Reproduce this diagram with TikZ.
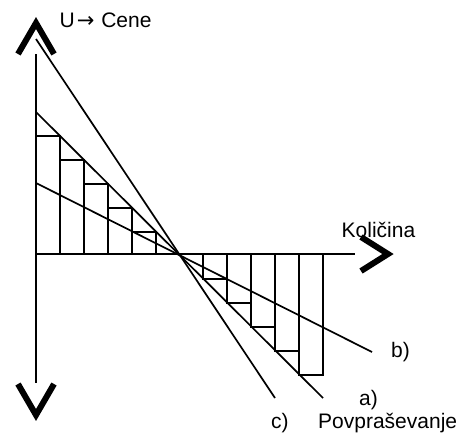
\documentclass[tikz,border=0pt]{standalone}
\usepackage{fontspec}
\setmainfont{Liberation Sans}
\newfontfamily\arrowfont{DejaVu Sans}
\usepackage{tikz}
\usetikzlibrary{positioning}

\begin{document}
\begin{tikzpicture}[x=1pt,y=-1pt,font=\fontsize{21}{25}\selectfont,
  axis/.style={line width=2.2pt},
  chevron/.style={line width=6pt,miter limit=10},
  demand/.style={line width=1.7pt},
  bar/.style={line width=1.8pt},
  lbl/.style={anchor=base west,inner sep=0pt}]
  \useasboundingbox (0,0) rectangle (470,432);

  % axes
  \coordinate (ytop) at (36,54);
  \coordinate (ybot) at (36,383);
  \coordinate (xl) at (36,254);
  \coordinate (xr) at (355,254);
  \draw[axis] (ytop) -- (ybot);
  \draw[axis] (xl) -- (xr);
  \draw[chevron] (18,54) -- (36,23) -- (54,54);
  \draw[chevron] (18,384) -- (36,415) -- (54,384);
  \draw[chevron] (361,237) -- (388,254) -- (361,271);

  % bars above and below the axis
  \foreach \xx in {36,60,84,108,132} {
    \draw[bar] (\xx,254) rectangle (\xx+24,\xx+100);
  }
  \foreach \xx in {203,227,251,275,299} {
    \draw[bar] (\xx,254) rectangle (\xx+24,\xx+76);
  }

  % demand lines
  \coordinate (c0) at (36,39);
  \coordinate (c1) at (275,398);
  \coordinate (a0) at (36,112);
  \coordinate (a1) at (323,398);
  \coordinate (b0) at (36,183);
  \coordinate (b1) at (372,352);
  \draw[demand] (c0) -- (c1);
  \draw[demand] (a0) -- (a1);
  \draw[demand] (b0) -- (b1);

  % labels
  \node[lbl] (price) at (59.5,27) {U\kern2pt{\arrowfont →}\kern1pt\ Cene};
  \node[lbl] (qty) at (341.5,237) {Količina};
  \node[lbl] (lb) at (391,357) {b)};
  \node[lbl] (la) at (359,405) {a)};
  \node[lbl] (lc) at (271,428) {c)};
  \node[lbl] (dem) at (318,428) {Povpraševanje};
\end{tikzpicture}
\end{document}
